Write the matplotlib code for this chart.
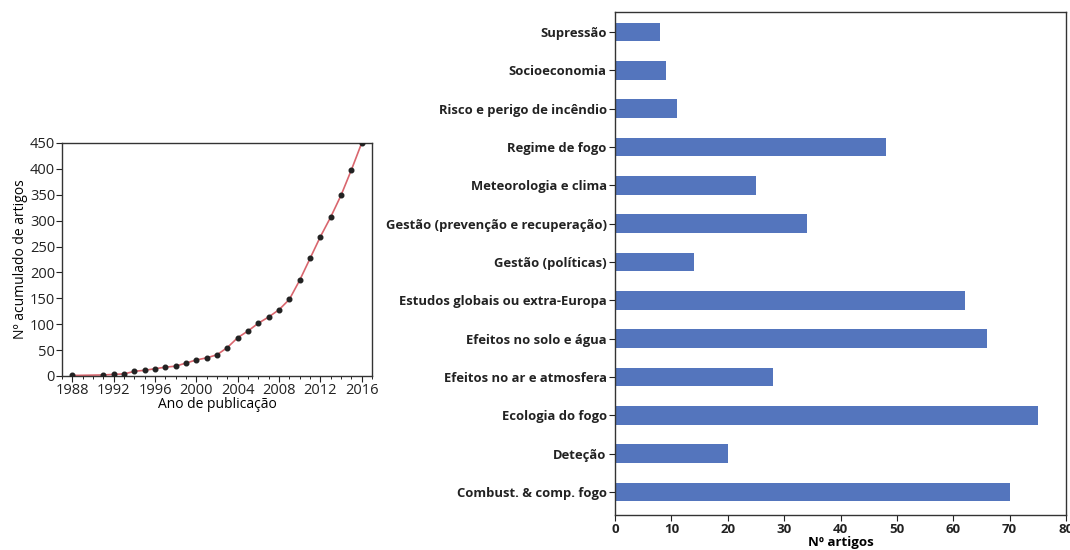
import matplotlib
matplotlib.use('Agg')
from matplotlib import pyplot as plt
from matplotlib.ticker import MultipleLocator

years = [1988, 1991, 1992, 1993, 1994, 1995, 1996, 1997, 1998, 1999, 2000,
         2001, 2002, 2003, 2004, 2005, 2006, 2007, 2008, 2009, 2010, 2011,
         2012, 2013, 2014, 2015, 2016]
cumulative = [1, 2, 3, 4, 9, 11, 14, 17, 19, 25, 31, 35, 41, 55, 74, 87,
              102, 114, 128, 148, 185, 227, 269, 307, 349, 398, 450]

topics = ['Combust. & comp. fogo', 'Deteção', 'Ecologia do fogo',
          'Efeitos no ar e atmosfera', 'Efeitos no solo e água',
          'Estudos globais ou extra-Europa', 'Gestão (políticas)',
          'Gestão (prevenção e recuperação)', 'Meteorologia e clima',
          'Regime de fogo', 'Risco e perigo de incêndio', 'Socioeconomia',
          'Supressão']
counts = [70, 20, 75, 28, 66, 62, 14, 34, 25, 48, 11, 9, 8]

plt.rcParams['font.family'] = ['Open Sans', 'DejaVu Sans']

fig = plt.figure(figsize=(10.7, 5.5), dpi=100)

# cumulative articles
ax1 = fig.add_axes([0.058, 0.3164, 0.2897, 0.4236])
ax1.plot(years, cumulative, color='#d9666e', lw=1.2, zorder=2)
ax1.scatter(years, cumulative, color='#222222', s=11, zorder=3)
ax1.set_xlim(1987, 2017)
ax1.set_ylim(0, 450)
ax1.xaxis.set_major_locator(MultipleLocator(4))
ax1.xaxis.set_minor_locator(MultipleLocator(1))
ax1.yaxis.set_major_locator(MultipleLocator(50))
ax1.tick_params(axis='both', which='major', direction='out', length=4,
                labelsize=10.5, colors='#222222', pad=1)
ax1.tick_params(axis='x', which='minor', direction='out', length=2.5)
ax1.set_xlabel('Ano de publicação', fontsize=10, labelpad=-1)
ax1.set_ylabel('Nº acumulado de artigos', fontsize=10, labelpad=1)
for s in ax1.spines.values():
    s.set_color('#333333')
    s.set_linewidth(1.0)

# articles by topic
ax2 = fig.add_axes([0.5748, 0.0636, 0.4215, 0.9145])
ax2.barh(range(len(topics)), counts, height=0.48, color='#5475bd')
ax2.set_yticks(range(len(topics)))
ax2.set_yticklabels(topics, fontweight='bold', fontsize=9.4)
ax2.set_xlim(0, 80)
ax2.set_ylim(-0.6, len(topics) - 0.48)
ax2.xaxis.set_major_locator(MultipleLocator(10))
ax2.tick_params(axis='both', direction='out', length=4, colors='#222222',
                pad=2)
ax2.tick_params(axis='x', labelsize=9.5)
for lab in ax2.get_xticklabels():
    lab.set_fontweight('bold')
ax2.set_xlabel('Nº artigos', fontsize=9.5, fontweight='bold', labelpad=0)
for s in ax2.spines.values():
    s.set_color('#333333')
    s.set_linewidth(1.0)

fig.savefig('out.png', dpi=100)
